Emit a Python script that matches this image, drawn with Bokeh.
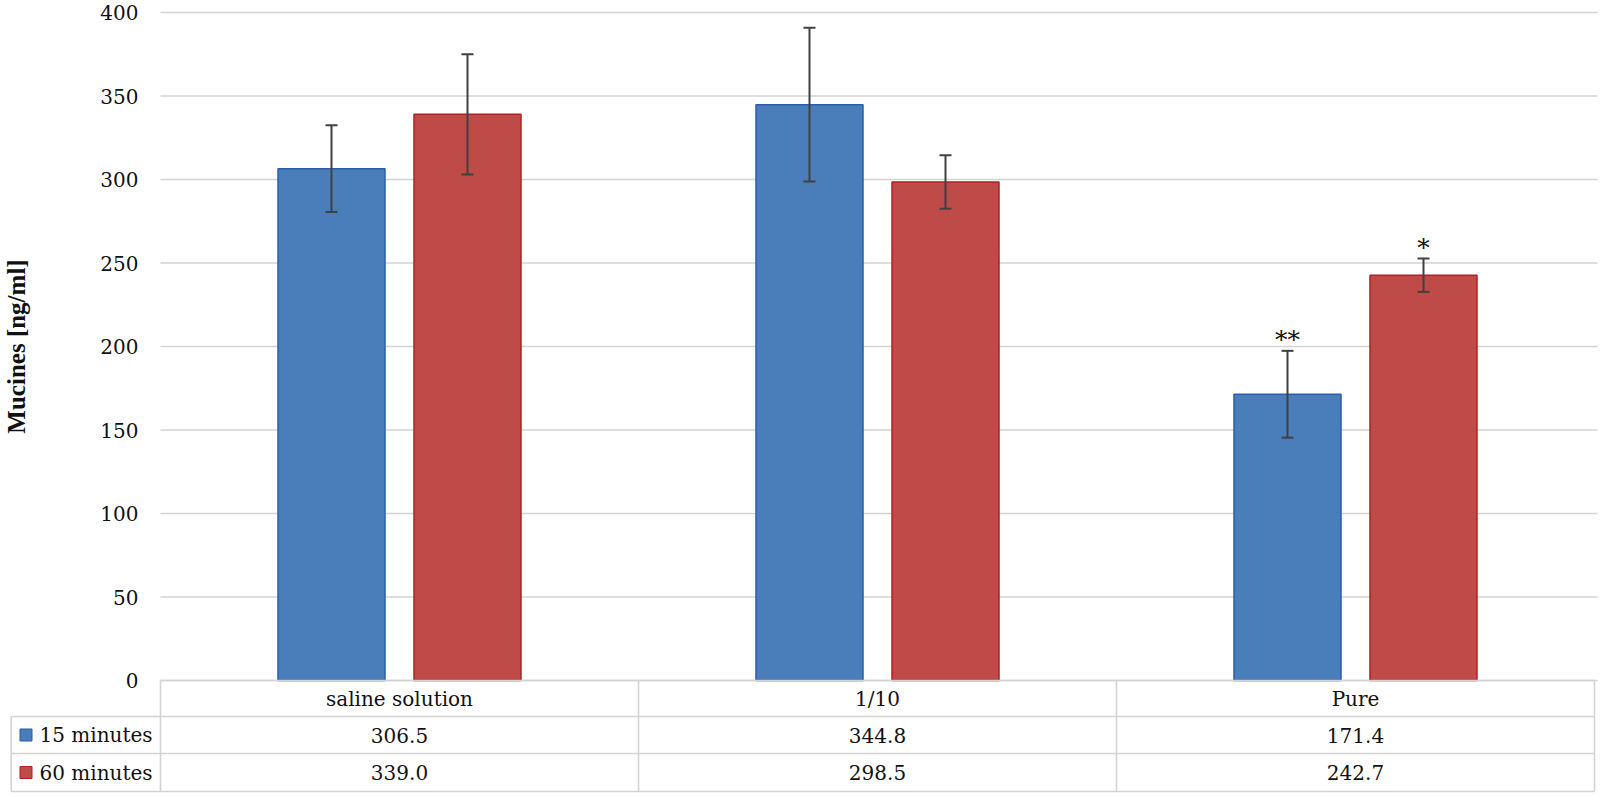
from bokeh.plotting import figure
from bokeh.models import Range1d, FixedTicker, ColumnDataSource, Whisker, TeeHead
from bokeh.core.properties import value
from bokeh.embed import file_html
from bokeh.resources import INLINE

# ---------------- data ----------------
categories = ["saline solution", "1/10", "Pure"]
series_names = ["15 minutes", "60 minutes"]
vals_15 = [306.5, 344.8, 171.4]
vals_60 = [339.0, 298.5, 242.7]
err_15 = [26.0, 46.0, 26.0]
err_60 = [36.0, 16.0, 10.0]
sig_15 = ["", "", "**"]
sig_60 = ["", "", "*"]
y_ticks = [0, 50, 100, 150, 200, 250, 300, 350, 400]
y_title = "Mucines [ng/ml]"

# ---------------- style / layout ----------------
FONT = "DejaVu Serif"
FS = "20px"
TITLE_FONT = "Liberation Serif"
BLUE, BLUE_LINE = "#4a7ebb", "#2a5ea9"
RED, RED_LINE = "#be4b48", "#b3201f"
GRID = "#d3d3d3"
TABLE = "#d3d3d3"
ERR = "#404040"
TXT = "#111111"

W, H = 1600, 796
PX_CAT = 478.0
LEFT_PX = 160.0
PX_UNIT = 1.67
TOP_PX = 12.0
BAR_W = 107.0 / PX_CAT
OFF = 68.0 / PX_CAT
HEAD_PX, ROW1_PX, ROW2_PX = 36.0, 37.0, 38.0
LEG_LEFT = -149.3 / PX_CAT

x0 = -LEFT_PX / PX_CAT
x1 = x0 + W / PX_CAT
y1 = max(y_ticks) + TOP_PX / PX_UNIT
y0 = y1 - H / PX_UNIT

p = figure(width=W, height=H, output_backend="svg", toolbar_location=None,
           x_range=Range1d(x0, x1), y_range=Range1d(y0, y1),
           min_border_left=0, min_border_right=0, min_border_top=0, min_border_bottom=0)
p.outline_line_color = None
p.background_fill_color = "white"
p.border_fill_color = "white"
p.xaxis.visible = False
p.xgrid.visible = False
p.ygrid.visible = False

ncat = len(categories)
ymax = max(y_ticks)
grid_end = ncat + 3.0 / PX_CAT

# horizontal gridlines across the chart columns
p.segment(x0=[0] * len(y_ticks), x1=[grid_end] * len(y_ticks), y0=y_ticks, y1=y_ticks,
          line_color=GRID, line_width=1.6)

# y axis drawn at x=0
ax = p.yaxis[0]
ax.fixed_location = 0
ax.ticker = FixedTicker(ticks=y_ticks)
ax.bounds = (0, ymax)
ax.axis_line_color = None
ax.major_tick_line_color = None
ax.minor_tick_line_color = None
ax.major_tick_out = 0
ax.major_tick_in = 0
ax.major_label_standoff = 22
ax.major_label_text_font = FONT
ax.major_label_text_font_size = FS
ax.major_label_text_color = TXT
ax.axis_label = y_title
ax.axis_label_text_font = TITLE_FONT
ax.axis_label_text_font_size = "25px"
ax.axis_label_text_font_style = "bold"
ax.axis_label_text_color = TXT
ax.axis_label_standoff = 67

# bars
centers = [i + 0.5 for i in range(ncat)]
xb15 = [c - OFF for c in centers]
xb60 = [c + OFF for c in centers]
src15 = ColumnDataSource(dict(x=xb15, top=vals_15, upper=[v + e for v, e in zip(vals_15, err_15)],
                              lower=[v - e for v, e in zip(vals_15, err_15)], sig=sig_15))
src60 = ColumnDataSource(dict(x=xb60, top=vals_60, upper=[v + e for v, e in zip(vals_60, err_60)],
                              lower=[v - e for v, e in zip(vals_60, err_60)], sig=sig_60))
p.vbar(x="x", top="top", bottom=0, width=BAR_W, source=src15,
       fill_color=BLUE, line_color=BLUE_LINE, line_width=1.5)
p.vbar(x="x", top="top", bottom=0, width=BAR_W, source=src60,
       fill_color=RED, line_color=RED_LINE, line_width=1.5)

# error bars and significance marks
for src in (src15, src60):
    w = Whisker(base="x", upper="upper", lower="lower", source=src, dimension="height",
                line_color=ERR, line_width=2, level="annotation",
                upper_head=TeeHead(size=12, line_color=ERR, line_width=2),
                lower_head=TeeHead(size=12, line_color=ERR, line_width=2))
    p.add_layout(w)
    p.text(x="x", y="upper", text="sig", source=src, text_font=value(FONT),
           text_font_size="25px", text_align="center", text_baseline="alphabetic",
           y_offset=-11, text_color=TXT)

# ---------------- data table ----------------
yh = -HEAD_PX / PX_UNIT
yr1 = -(HEAD_PX + ROW1_PX) / PX_UNIT
yr2 = -(HEAD_PX + ROW1_PX + ROW2_PX) / PX_UNIT

hx0 = [0, LEG_LEFT, LEG_LEFT, LEG_LEFT]
hx1 = [ncat] * 4
hy = [0, yh, yr1, yr2]
p.segment(x0=hx0, x1=hx1, y0=hy, y1=hy, line_color=TABLE, line_width=1.6)
vx = [LEG_LEFT] + list(range(ncat + 1))
vy0 = [yh] + [0] * (ncat + 1)
vy1 = [yr2] * (ncat + 2)
p.segment(x0=vx, x1=vx, y0=vy0, y1=vy1, line_color=TABLE, line_width=1.6)

tk = dict(text_font=value(FONT), text_font_size=FS, text_color=TXT, text_baseline="middle")
p.text(x=centers, y=[yh / 2] * ncat, text=categories, text_align="center", **tk)
p.text(x=centers, y=[(yh + yr1) / 2] * ncat, text=[f"{v:.1f}" for v in vals_15],
       text_align="center", **tk)
p.text(x=centers, y=[(yr1 + yr2) / 2] * ncat, text=[f"{v:.1f}" for v in vals_60],
       text_align="center", **tk)

leg_sq_x = -134.5 / PX_CAT
leg_tx = -121.0 / PX_CAT
row_mid = [(yh + yr1) / 2, (yr1 + yr2) / 2]
p.scatter(x=[leg_sq_x] * 2, y=row_mid, marker="square", size=12,
          fill_color=[BLUE, RED], line_color=[BLUE_LINE, RED_LINE], line_width=1)
p.text(x=[leg_tx] * 2, y=row_mid, text=series_names, text_align="left", **tk)

open("out.html", "w").write(file_html(p, INLINE))
